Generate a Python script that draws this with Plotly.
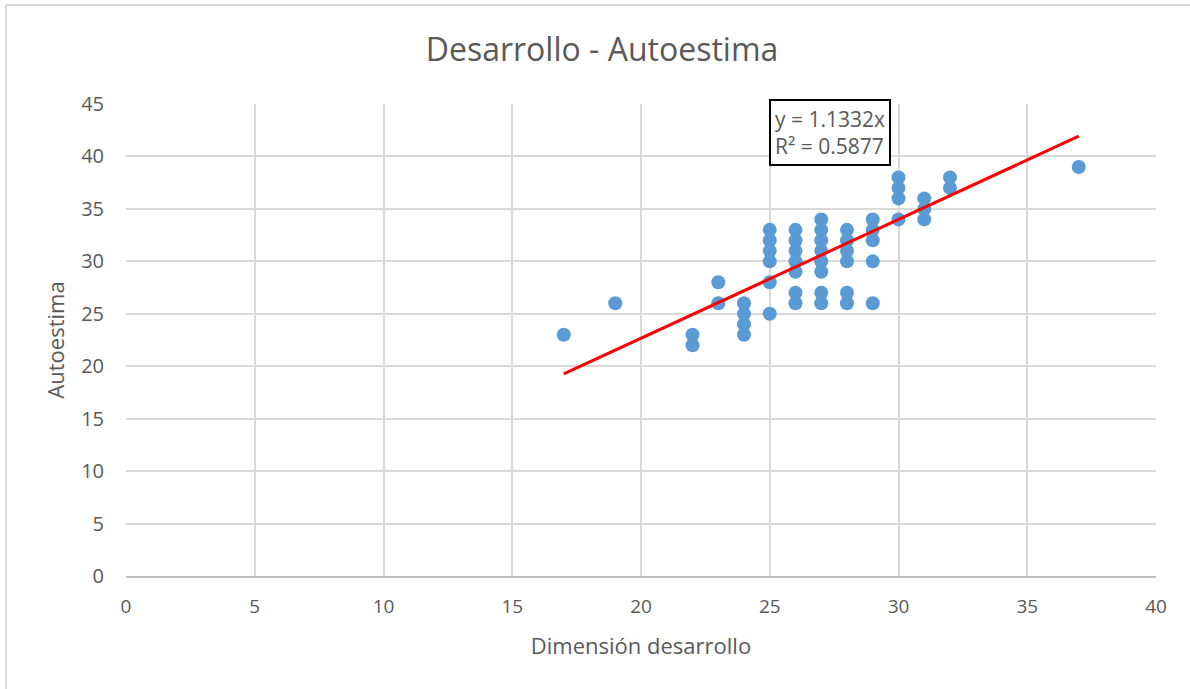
import numpy as np
import plotly.graph_objects as go

# Dimensión desarrollo (x) and Autoestima (y) scores
desarrollo = [17, 19, 22, 22, 23, 23, 24, 24, 24, 24,
              25, 25, 25, 25, 25, 25,
              26, 26, 26, 26, 26, 26, 26,
              27, 27, 27, 27, 27, 27, 27, 27,
              28, 28, 28, 28, 28, 28,
              29, 29, 29, 29, 29,
              30, 30, 30, 30,
              31, 31, 31,
              32, 32,
              37]
autoestima = [23, 26, 23, 22, 28, 26, 26, 25, 24, 23,
              33, 32, 31, 30, 28, 25,
              33, 32, 31, 30, 29, 27, 26,
              34, 33, 32, 31, 30, 29, 27, 26,
              33, 32, 31, 30, 27, 26,
              34, 33, 32, 30, 26,
              38, 37, 36, 34,
              36, 35, 34,
              38, 37,
              39]

# Linear trend through the origin, as reported in the label
slope = 1.1332
r_squared = 0.5877

x_ticks = [0, 5, 10, 15, 20, 25, 30, 35, 40]
y_ticks = [0, 5, 10, 15, 20, 25, 30, 35, 40, 45]

FONT = "Open Sans"
TEXT = "#595959"
GRID = "#d9d9d9"

x_fit = np.array([min(desarrollo), max(desarrollo)], dtype=float)
y_fit = slope * x_fit

fig = go.Figure()
fig.add_trace(go.Scatter(
    x=desarrollo, y=autoestima, mode="markers",
    marker=dict(size=14, color="#5b9bd5", line=dict(width=0)),
    showlegend=False, cliponaxis=False,
))
fig.add_trace(go.Scatter(
    x=x_fit, y=y_fit, mode="lines",
    line=dict(color="#ff0000", width=3),
    showlegend=False,
))

fig.update_layout(
    width=1190, height=689,
    margin=dict(l=126, r=34, t=104, b=113),
    paper_bgcolor="white", plot_bgcolor="white",
    font=dict(family=FONT, color=TEXT, size=18),
    title=dict(text="Desarrollo - Autoestima", x=602 / 1190, xanchor="center",
               y=1 - 50 / 689, yanchor="middle",
               font=dict(family=FONT, size=32, color=TEXT)),
    xaxis=dict(range=[0, 40], tickvals=x_ticks, showgrid=True,
               gridcolor=GRID, gridwidth=2, zeroline=False,
               showline=True, linecolor="#bfbfbf", linewidth=2,
               ticks="", ticklen=0, tickfont=dict(size=19, color=TEXT),
               ticklabelstandoff=12,
               title=dict(text="Dimensión desarrollo", standoff=21,
                          font=dict(size=22, color=TEXT))),
    yaxis=dict(range=[0, 45], tickvals=y_ticks, showgrid=True,
               gridcolor=GRID, gridwidth=2, zeroline=False,
               showline=False, ticks="", tickfont=dict(size=20, color=TEXT),
               ticklabelstandoff=21,
               title=dict(text="Autoestima", standoff=10,
                          font=dict(size=22, color=TEXT))),
)

# Trendline label box (positioned in paper units of the plot area)
px_w, px_h = 1030, 472
fig.add_annotation(
    x=(769 - 126) / px_w, y=(576 - 99) / px_h, xref="paper", yref="paper",
    xanchor="left", yanchor="top",
    text=f"y = {slope:.4f}x<br>R² = {r_squared:.4f}",
    showarrow=False, align="left",
    font=dict(family=FONT, size=21, color=TEXT),
    bordercolor="black", borderwidth=2, borderpad=4, bgcolor="white",
)

# Chart frame along the left and top edges
left = (6 - 126) / px_w
top = (576 - 5) / px_h
bottom = (576 - 700) / px_h
right = (1200 - 126) / px_w
fig.add_shape(type="line", xref="paper", yref="paper",
              x0=left, x1=left, y0=bottom, y1=top,
              line=dict(color="#d9d9d9", width=2))
fig.add_shape(type="line", xref="paper", yref="paper",
              x0=left, x1=right, y0=top, y1=top,
              line=dict(color="#d9d9d9", width=2))

fig.write_html("out.html")
